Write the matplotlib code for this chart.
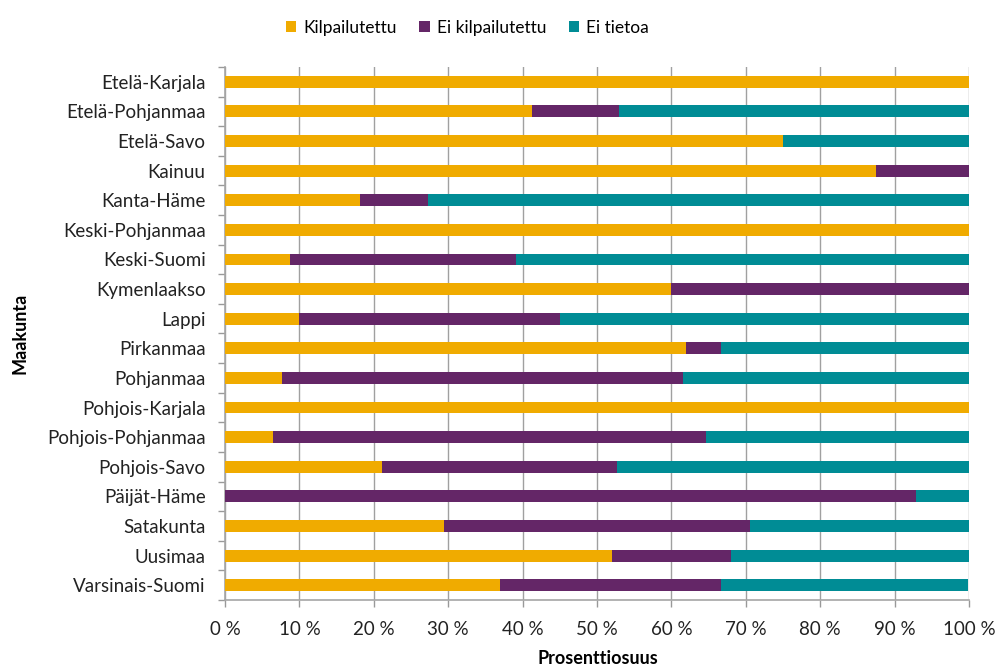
import numpy as np
import matplotlib.pyplot as plt
from matplotlib.ticker import FixedLocator, PercentFormatter

plt.rcParams['font.family'] = ['Lato', 'DejaVu Sans']

regions = ['Etelä-Karjala', 'Etelä-Pohjanmaa', 'Etelä-Savo', 'Kainuu', 'Kanta-Häme',
           'Keski-Pohjanmaa', 'Keski-Suomi', 'Kymenlaakso', 'Lappi', 'Pirkanmaa',
           'Pohjanmaa', 'Pohjois-Karjala', 'Pohjois-Pohjanmaa', 'Pohjois-Savo',
           'Päijät-Häme', 'Satakunta', 'Uusimaa', 'Varsinais-Suomi']
kilpailutettu = [100, 41.2, 75, 87.5, 18.2, 100, 8.7, 60, 10, 61.9,
                 7.7, 100, 6.5, 21.1, 0, 29.4, 52, 37.0]
ei_kilpailutettu = [0, 11.8, 0, 12.5, 9.1, 0, 30.4, 40, 35, 4.8,
                    53.8, 0, 58.1, 31.6, 92.9, 41.2, 16, 29.6]
ei_tietoa = [0, 47.1, 25, 0, 72.7, 0, 60.9, 0, 55, 33.3,
             38.5, 0, 35.5, 47.4, 7.1, 29.4, 32, 33.3]

colors = ['#F0AB00', '#642667', '#008C95']

fig = plt.figure(figsize=(9.97, 6.66), dpi=100)
ax = fig.add_axes([0.2257, 0.0991, 0.7462, 0.8003])

y = np.arange(len(regions))
k = np.array(kilpailutettu)
e = np.array(ei_kilpailutettu)
t = np.array(ei_tietoa)
h = 0.4
ax.barh(y, k, height=h, color=colors[0], label='Kilpailutettu', zorder=3)
ax.barh(y, e, left=k, height=h, color=colors[1], label='Ei kilpailutettu', zorder=3)
ax.barh(y, t, left=k + e, height=h, color=colors[2], label='Ei tietoa', zorder=3)

ax.set_xlim(0, 100)
ax.set_ylim(len(regions) - 0.5, -0.5)
ax.set_xticks(np.arange(0, 101, 10))
ax.xaxis.set_major_formatter(PercentFormatter(decimals=0, symbol=' %'))
ax.set_yticks(y)
ax.set_yticklabels(regions)
ax.yaxis.set_minor_locator(FixedLocator(np.arange(-0.5, len(regions), 1)))
ax.tick_params(axis='y', which='major', length=0, pad=14, labelsize=13.5, colors='#222222')
ax.tick_params(axis='y', which='minor', length=5, color='#999999', width=1)
ax.tick_params(axis='x', which='major', length=5, color='#999999', width=1,
               pad=10, labelsize=13.5, colors='#222222')

ax.grid(axis='x', color='#a0a0a0', linewidth=1, zorder=0)
for side in ['top', 'right']:
    ax.spines[side].set_visible(False)
for side in ['left', 'bottom']:
    ax.spines[side].set_color('#a6a6a6')
    ax.spines[side].set_linewidth(1.2)

fig.text(0.6, 1 - 658 / 666, 'Prosenttiosuus', fontsize=13, fontweight='bold',
         ha='center', va='center')
fig.text(20 / 997, 0.5, 'Maakunta', fontsize=13, fontweight='bold',
         rotation=90, ha='center', va='center')

ax.legend(loc='center', bbox_to_anchor=(0.326, 1.074), ncol=3, frameon=False,
          fontsize=12.5, handlelength=0.6, handleheight=0.6, handletextpad=0.4,
          columnspacing=1.3)

fig.savefig('out.png', dpi=100)
